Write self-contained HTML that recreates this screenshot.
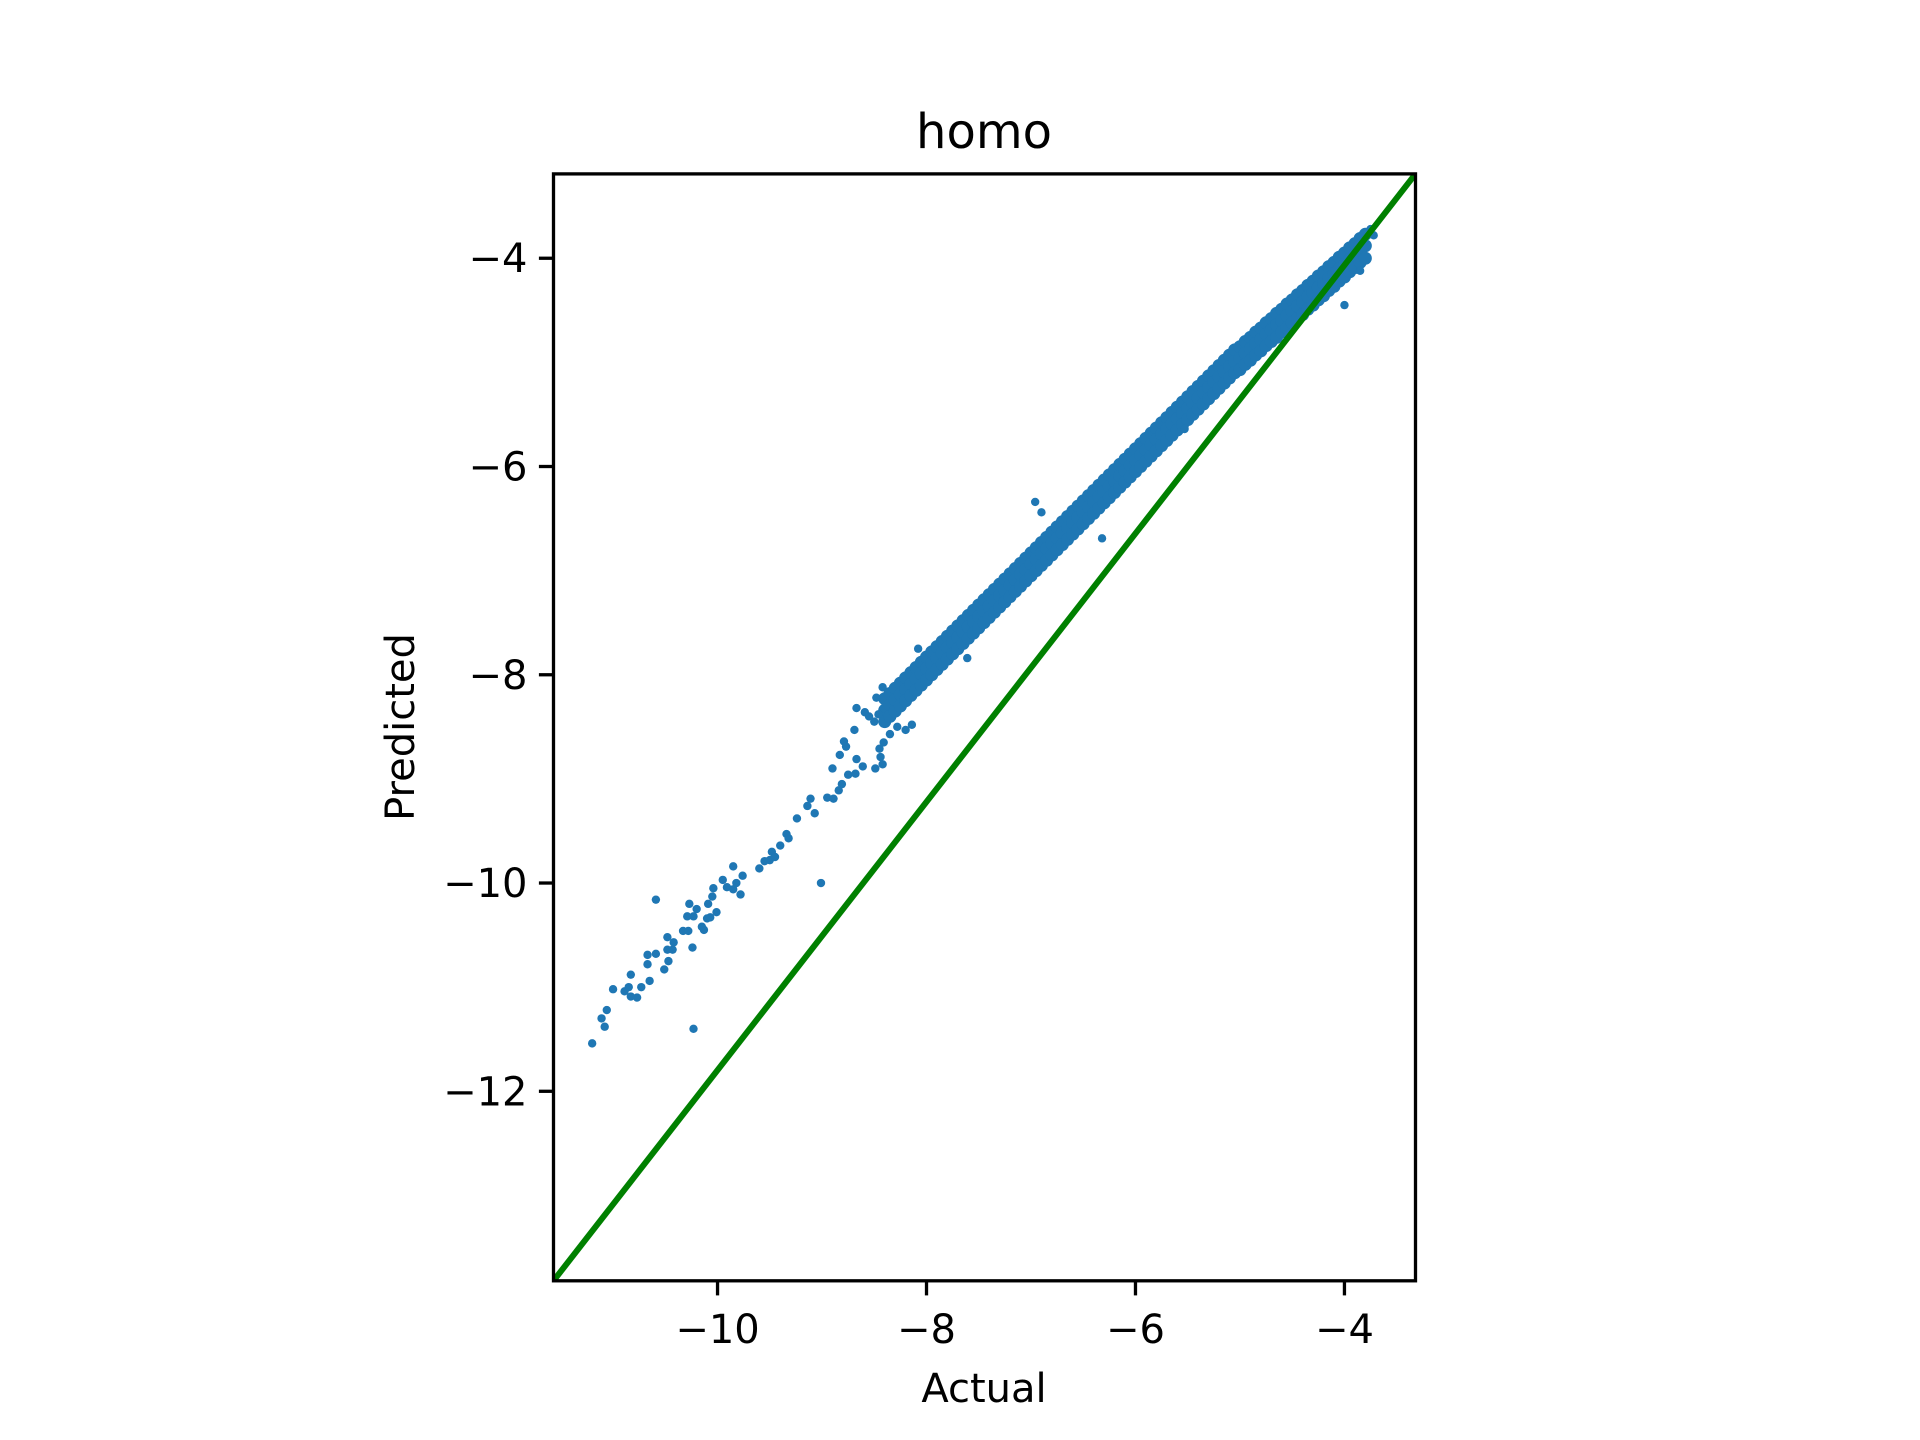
<!DOCTYPE html>
<html><head><meta charset="utf-8"><style>
html,body{margin:0;padding:0;background:#fff}
svg{display:block}
text{font-family:"DejaVu Sans","Liberation Sans",sans-serif;fill:#000}
</style></head><body>
<svg id="chart" width="1920" height="1440" viewBox="0 0 1920 1440">
<rect width="1920" height="1440" fill="#fff"/>
<g id="marks"></g>
<g id="axes"></g>
<text x="984" y="148" font-size="48" text-anchor="middle">homo</text>
<text x="984" y="1402" font-size="40" text-anchor="middle">Actual</text>
<text x="0" y="0" font-size="40" text-anchor="middle" transform="translate(414,727) rotate(-90)">Predicted</text>
</svg>
<script>
const xDomain = [-11.57, -3.32];
const yDomain = [-13.82, -3.19];
const xTicks = [-10, -8, -6, -4];
const yTicks = [-12, -10, -8, -6, -4];
const xTickLabels = ["−10", "−8", "−6", "−4"];
const yTickLabels = ["−12", "−10", "−8", "−6", "−4"];
const identityLine = [[-11.57, -13.82], [-3.32, -3.19]];
const sparseActual = [-11.20,-11.11,-11.08,-11.06,-11.00,-10.89,-10.85,-10.83,-10.77,-10.83,-10.73,-10.65,-10.67,-10.67,-10.59,-10.59,-10.51,-10.47,-10.48,-10.48,-10.43,-10.42,-10.33,-10.28,-10.29,-10.23,-10.27,-10.20,-10.24,-10.23,-10.15,-10.13,-10.10,-10.07,-10.01,-10.09,-10.05,-10.04,-9.95,-9.91,-9.85,-9.85,-9.82,-9.76,-9.78,-9.60,-9.55,-9.50,-9.48,-9.45,-9.40,-9.34,-9.32,-9.24,-9.14,-9.11,-9.07,-9.01,-8.95,-8.89,-8.84,-8.81,-8.75,-8.68,-8.90,-8.83,-8.79,-8.67,-8.61,-8.49,-8.42,-8.44,-8.45,-8.41,-8.35,-8.28,-8.20,-8.67,-8.69,-8.77,-8.59,-8.48,-8.42,-8.55,-8.50,-8.46,-6.96,-6.90,-6.32,-7.61,-8.14,-8.08,-5.53,-3.75,-3.72,-3.90,-4.00,-3.85];
const sparsePredicted = [-11.54,-11.30,-11.38,-11.22,-11.02,-11.04,-11.00,-11.09,-11.10,-10.88,-11.00,-10.94,-10.78,-10.69,-10.68,-10.16,-10.83,-10.75,-10.52,-10.64,-10.64,-10.57,-10.46,-10.46,-10.32,-10.32,-10.20,-10.25,-10.62,-11.40,-10.42,-10.45,-10.34,-10.33,-10.28,-10.20,-10.13,-10.05,-9.97,-10.04,-10.06,-9.84,-10.00,-9.93,-10.11,-9.86,-9.79,-9.78,-9.70,-9.75,-9.64,-9.53,-9.57,-9.38,-9.26,-9.19,-9.33,-10.00,-9.18,-9.19,-9.11,-9.05,-8.96,-8.95,-8.90,-8.77,-8.64,-8.81,-8.88,-8.90,-8.86,-8.79,-8.71,-8.65,-8.57,-8.50,-8.53,-8.32,-8.53,-8.69,-8.36,-8.22,-8.12,-8.40,-8.45,-8.38,-6.34,-6.44,-6.69,-7.84,-8.48,-7.75,-5.64,-3.72,-3.78,-3.85,-4.45,-4.12];
const denseActual = [-8.40,-8.35,-8.30,-8.25,-8.20,-8.15,-8.10,-8.05,-8.00,-7.95,-7.90,-7.85,-7.80,-7.75,-7.70,-7.65,-7.60,-7.55,-7.50,-7.45,-7.40,-7.35,-7.30,-7.25,-7.20,-7.15,-7.10,-7.05,-7.00,-6.95,-6.90,-6.85,-6.80,-6.75,-6.70,-6.65,-6.60,-6.55,-6.50,-6.45,-6.40,-6.35,-6.30,-6.25,-6.20,-6.15,-6.10,-6.05,-6.00,-5.95,-5.90,-5.85,-5.80,-5.75,-5.70,-5.65,-5.60,-5.55,-5.50,-5.45,-5.40,-5.35,-5.30,-5.25,-5.20,-5.15,-5.10,-5.05,-5.00,-4.95,-4.90,-4.85,-4.80,-4.75,-4.70,-4.65,-4.60,-4.55,-4.50,-4.45,-4.40,-4.35,-4.30,-4.25,-4.20,-4.15,-4.10,-4.05,-4.00,-3.95,-3.90,-3.85,-3.80];
const densePredicted = [
[-8.23,-8.34,-8.45],[-8.18,-8.29,-8.40],[-8.13,-8.24,-8.35],[-8.08,-8.19,-8.30],[-8.03,-8.14,-8.25],[-7.98,-8.09,-8.20],[-7.93,-8.04,-8.15],[-7.88,-7.99,-8.10],[-7.83,-7.94,-8.05],[-7.78,-7.89,-8.00],
[-7.73,-7.84,-7.95],[-7.68,-7.79,-7.90],[-7.63,-7.74,-7.85],[-7.58,-7.69,-7.80],[-7.53,-7.64,-7.75],[-7.48,-7.59,-7.70],[-7.43,-7.54,-7.65],[-7.38,-7.49,-7.60],[-7.33,-7.44,-7.55],[-7.28,-7.39,-7.50],
[-7.23,-7.34,-7.45],[-7.18,-7.29,-7.40],[-7.13,-7.24,-7.35],[-7.08,-7.19,-7.30],[-7.03,-7.14,-7.25],[-6.98,-7.09,-7.20],[-6.93,-7.04,-7.15],[-6.88,-6.99,-7.10],[-6.83,-6.94,-7.05],[-6.78,-6.89,-7.00],
[-6.73,-6.84,-6.95],[-6.68,-6.79,-6.90],[-6.63,-6.74,-6.85],[-6.58,-6.69,-6.80],[-6.53,-6.64,-6.75],[-6.48,-6.59,-6.70],[-6.43,-6.54,-6.65],[-6.38,-6.49,-6.60],[-6.33,-6.44,-6.55],[-6.28,-6.39,-6.50],
[-6.23,-6.34,-6.45],[-6.18,-6.29,-6.40],[-6.13,-6.24,-6.35],[-6.08,-6.19,-6.30],[-6.03,-6.14,-6.25],[-5.98,-6.09,-6.20],[-5.93,-6.04,-6.15],[-5.88,-5.99,-6.10],[-5.83,-5.94,-6.05],[-5.78,-5.89,-6.00],
[-5.73,-5.84,-5.95],[-5.68,-5.79,-5.90],[-5.63,-5.74,-5.85],[-5.58,-5.69,-5.80],[-5.53,-5.64,-5.75],[-5.48,-5.59,-5.70],[-5.43,-5.54,-5.65],[-5.38,-5.49,-5.60],[-5.33,-5.44,-5.55],[-5.28,-5.39,-5.50],
[-5.23,-5.34,-5.45],[-5.18,-5.29,-5.40],[-5.13,-5.24,-5.35],[-5.08,-5.19,-5.30],[-5.03,-5.14,-5.25],[-4.98,-5.09,-5.20],[-4.93,-5.04,-5.15],[-4.88,-4.99,-5.10],[-4.85,-4.96,-5.07],[-4.80,-4.91,-5.02],
[-4.76,-4.87,-4.98],[-4.71,-4.82,-4.93],[-4.67,-4.78,-4.89],[-4.62,-4.73,-4.84],[-4.58,-4.69,-4.80],[-4.53,-4.64,-4.76],[-4.49,-4.60,-4.71],[-4.44,-4.55,-4.67],[-4.40,-4.51,-4.62],[-4.35,-4.46,-4.58],
[-4.31,-4.42,-4.54],[-4.26,-4.37,-4.49],[-4.22,-4.33,-4.45],[-4.17,-4.28,-4.40],[-4.13,-4.24,-4.36],[-4.08,-4.19,-4.31],[-4.04,-4.15,-4.27],[-3.99,-4.10,-4.22],[-3.95,-4.06,-4.18],[-3.90,-4.01,-4.13],
[-3.86,-3.97,-4.09],[-3.81,-3.92,-4.04],[-3.77,-3.88,-4.00]];

const L = 553.5, R = 1415.5, T = 173.9, B = 1280.8;
const NS = "http://www.w3.org/2000/svg";
function sx(v){ return L + (v - xDomain[0]) / (xDomain[1] - xDomain[0]) * (R - L); }
function sy(v){ return B - (v - yDomain[0]) / (yDomain[1] - yDomain[0]) * (B - T); }
function mk(tag, attrs, parent){ const e = document.createElementNS(NS, tag); for (const k in attrs) e.setAttribute(k, attrs[k]); parent.appendChild(e); return e; }

const marks = document.getElementById('marks');
const axes = document.getElementById('axes');
const clip = mk('clipPath', {id: 'plotclip'}, marks);
mk('rect', {x: L, y: T, width: R - L, height: B - T}, clip);
const pts = mk('g', {'clip-path': 'url(#plotclip)'}, marks);



function dot(x, y, r){
  const c = mk('circle', {cx: sx(x), cy: sy(y), r: r, fill: '#1f77b4'}, pts);
  
  
}
denseActual.forEach((x, i) => { densePredicted[i].forEach(y => dot(x, y, 6.5)); });
sparseActual.forEach((x, i) => dot(x, sparsePredicted[i], 4.2));

const line = mk('line', {x1: sx(identityLine[0][0]), y1: sy(identityLine[0][1]), x2: sx(identityLine[1][0]), y2: sy(identityLine[1][1]), stroke: '#008000', 'stroke-width': 6, 'clip-path': 'url(#plotclip)'}, marks);



const frame = mk('rect', {x: L, y: T, width: R - L, height: B - T, fill: 'none', stroke: '#000', 'stroke-width': 3.3}, axes);



xTicks.forEach((v, i) => {
  const t = mk('line', {x1: sx(v), x2: sx(v), y1: B, y2: B + 14.6, stroke: '#000', 'stroke-width': 3.3}, axes);
  
  
  const tx = mk('text', {x: sx(v), y: B + 62, 'font-size': 40, 'text-anchor': 'middle'}, axes);
  tx.textContent = xTickLabels[i];
  
  
});
yTicks.forEach((v, i) => {
  const t = mk('line', {x1: L - 14.6, x2: L, y1: sy(v), y2: sy(v), stroke: '#000', 'stroke-width': 3.3}, axes);
  
  
  const tx = mk('text', {x: L - 26, y: sy(v) + 14, 'font-size': 40, 'text-anchor': 'end'}, axes);
  tx.textContent = yTickLabels[i];
  
  
});
</script>
</body></html>
